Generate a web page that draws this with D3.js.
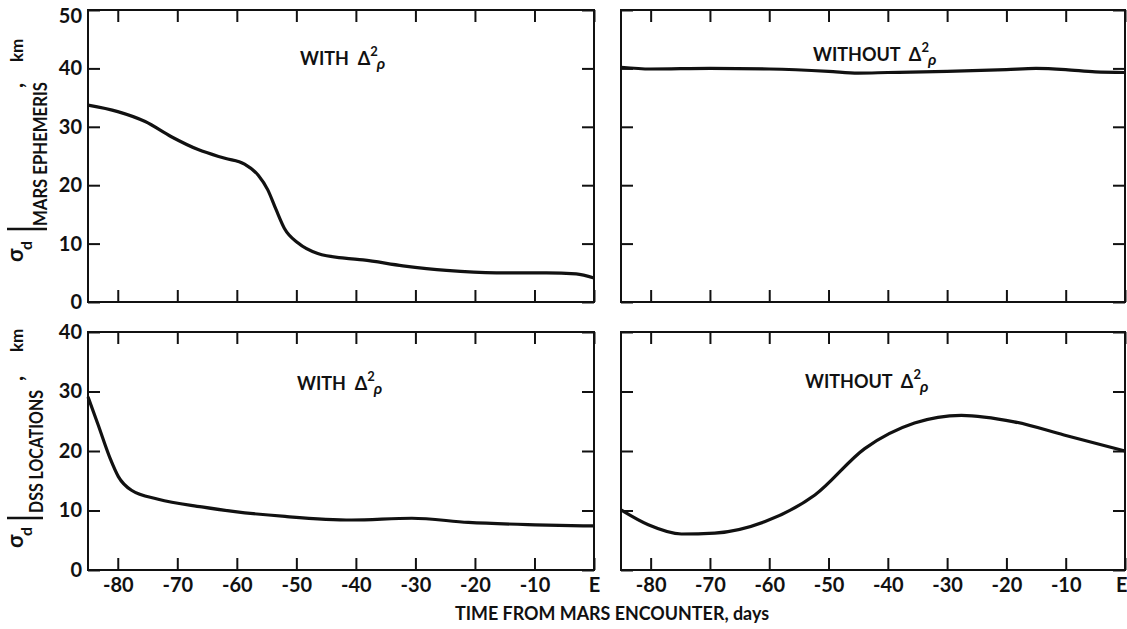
<!DOCTYPE html>
<html>
<head>
<meta charset="utf-8">
<script src="https://cdn.jsdelivr.net/npm/d3@7"></script>
<style>
  body { margin: 0; background: #fff; }
  text { font-family: Lato, "DejaVu Sans", sans-serif; font-weight: 700; fill: #111; }
</style>
</head>
<body>
<div id="chart"></div>
<script>
// values: [days from encounter, sigma_d km]
var xTicks = [-80, -70, -60, -50, -40, -30, -20, -10, 0];
var ephemYTicks = [0, 10, 20, 30, 40, 50];
var dssYTicks = [0, 10, 20, 30, 40];

var ephemWith = [[-85, 33.7], [-80, 32.6], [-75.4, 30.9], [-71, 28.3], [-66.5, 26.1], [-62, 24.6],
  [-58.7, 23.6], [-56.4, 21.7], [-54.8, 19.2], [-53.4, 15.8], [-52, 12.6], [-49.7, 10.1],
  [-46.4, 8.3], [-41.9, 7.5], [-38.8, 7.2], [-32.1, 6.2], [-24.8, 5.4], [-16.4, 5.0],
  [-8, 5.0], [-3, 4.8], [0, 4.1]];
var ephemWithout = [[-85, 40.2], [-80, 39.9], [-70, 40.0], [-60, 39.9], [-50, 39.5], [-45, 39.2],
  [-40, 39.3], [-30, 39.5], [-20, 39.8], [-15, 40.0], [-10, 39.8], [-5, 39.4], [0, 39.3]];
var dssWith = [[-85, 29.1], [-83.3, 24.4], [-81.3, 18.8], [-79.9, 15.7], [-77.7, 13.4], [-73.2, 11.9],
  [-65.9, 10.6], [-60.3, 9.8], [-51.9, 9.0], [-40.7, 8.4], [-30.6, 8.7], [-21.1, 8.0],
  [-9.9, 7.6], [0, 7.4]];
var dssWithout = [[-85, 10.1], [-80.4, 7.6], [-74.8, 6.05], [-69.2, 6.2], [-60.8, 8.1], [-52.3, 12.6],
  [-43.9, 20.4], [-35.5, 24.7], [-27.6, 26.0], [-18.7, 24.9], [-10.3, 22.7], [0, 20.0]];

var width = 1127, height = 629;
var svg = d3.select('#chart').append('svg')
    .attr('width', width)
    .attr('height', height);

var panels = [
  {x0: 88, x1: 594, y0: 10, y1: 302, ymax: 50, yt: ephemYTicks, data: ephemWith, left: true, bottom: false, title: 'WITH', tx: 300, ty: 65},
  {x0: 621, x1: 1125, y0: 10, y1: 302, ymax: 50, yt: ephemYTicks, data: ephemWithout, left: false, bottom: false, title: 'WITHOUT', tx: 813, ty: 61},
  {x0: 88, x1: 594, y0: 332, y1: 570, ymax: 40, yt: dssYTicks, data: dssWith, left: true, bottom: true, title: 'WITH', tx: 297, ty: 390},
  {x0: 621, x1: 1125, y0: 332, y1: 570, ymax: 40, yt: dssYTicks, data: dssWithout, left: false, bottom: true, title: 'WITHOUT', tx: 805, ty: 388}
];

panels.forEach(function(p, i) {
  var x = d3.scaleLinear().domain([-85, 0]).range([p.x0, p.x1]);
  var y = d3.scaleLinear().domain([0, p.ymax]).range([p.y1, p.y0]);

  var bAxis = d3.axisBottom(x).tickValues(xTicks).tickSize(-12).tickPadding(8)
      .tickFormat(function(d) { return p.bottom ? (d === 0 ? 'E' : String(d)) : ''; });
  var tAxis = d3.axisTop(x).tickValues(xTicks).tickSize(-12).tickFormat('');
  var lAxis = d3.axisLeft(y).tickValues(p.yt).tickSize(-12).tickPadding(6)
      .tickFormat(function(d) { return p.left ? String(d) : ''; });
  var rAxis = d3.axisRight(y).tickValues(p.yt).tickSize(-12).tickFormat('');

  var axes = [
    svg.append('g').attr('transform', 'translate(0,' + p.y1 + ')').call(bAxis),
    svg.append('g').attr('transform', 'translate(0,' + p.y0 + ')').call(tAxis),
    svg.append('g').attr('transform', 'translate(' + p.x0 + ',0)').call(lAxis),
    svg.append('g').attr('transform', 'translate(' + p.x1 + ',0)').call(rAxis)
  ];
  axes.forEach(function(a) {
    a.select('.domain').remove();
    a.selectAll('line').attr('stroke', '#111').attr('stroke-width', 2);
    a.selectAll('text').style('font-family', 'Lato, sans-serif').style('font-size', '20px')
      .style('font-weight', 700).attr('fill', '#111');
  });

  // keep the top "50" and the last "E" inside the page
  axes[2].selectAll('.tick text').filter(function(d) { return d === p.ymax && p.ymax === 50; })
      .attr('dy', '0.6em');
  if (!p.left) {
    axes[0].selectAll('.tick text').filter(function(d) { return d === 0; })
        .attr('text-anchor', 'end').attr('x', 2);
  }

  svg.append('rect')
      .attr('x', p.x0).attr('y', p.y0)
      .attr('width', p.x1 - p.x0).attr('height', p.y1 - p.y0)
      .attr('fill', 'none').attr('stroke', '#111').attr('stroke-width', 2);

  var line = d3.line()
      .x(function(d) { return x(d[0]); })
      .y(function(d) { return y(d[1]); })
      .curve(d3.curveMonotoneX);

  svg.append('path')
      .datum(p.data)
      .attr('d', line)
      .attr('fill', 'none')
      .attr('stroke', '#111')
      .attr('stroke-width', 3.2)
      .attr('stroke-linejoin', 'round');

  // panel caption
  var t = svg.append('text').attr('x', p.tx).attr('y', p.ty).style('font-size', '18px');
  t.append('tspan').text(p.title + '\u00a0 \u0394');
  t.append('tspan').attr('dy', -9).style('font-size', '13px').text('2');
  t.append('tspan').attr('dy', 13).attr('dx', -1).style('font-size', '16px').style('font-style', 'italic').text('\u03c1');
});

// rotated y-axis titles
function yTitle(sub, s) {
  var g = svg.append('g').attr('transform', 'rotate(-90)');
  g.append('text').attr('x', -s.sig).attr('y', 23).style('font-size', '22px').text('\u03c3');
  g.append('text').attr('x', -s.sig + 12).attr('y', 32).style('font-size', '16px').text('d');
  svg.append('line').attr('x1', 7).attr('x2', s.barEnd).attr('y1', s.bar).attr('y2', s.bar)
      .attr('stroke', '#111').attr('stroke-width', 2.6);
  g.append('text').attr('x', -s.subStart).attr('y', s.subBase)
      .attr('textLength', s.subLen).attr('lengthAdjust', 'spacingAndGlyphs')
      .style('font-size', '19px').text(sub);
  g.append('text').attr('x', -s.comma).attr('y', 23).style('font-size', '22px').text(',');
  g.append('text').attr('x', -s.km).attr('y', 23).style('font-size', '17px').text('km');
}
yTitle('MARS EPHEMERIS', {sig: 262, bar: 229, barEnd: 47, subStart: 226, subBase: 47, subLen: 144, comma: 88, km: 62});
yTitle('DSS LOCATIONS', {sig: 548, bar: 518, barEnd: 43, subStart: 513, subBase: 43, subLen: 123, comma: 381, km: 352});

svg.append('text')
    .attr('x', 455).attr('y', 620)
    .attr('textLength', 314).attr('lengthAdjust', 'spacingAndGlyphs')
    .style('font-size', '19px')
    .text('TIME FROM MARS ENCOUNTER, days');
</script>
</body>
</html>
